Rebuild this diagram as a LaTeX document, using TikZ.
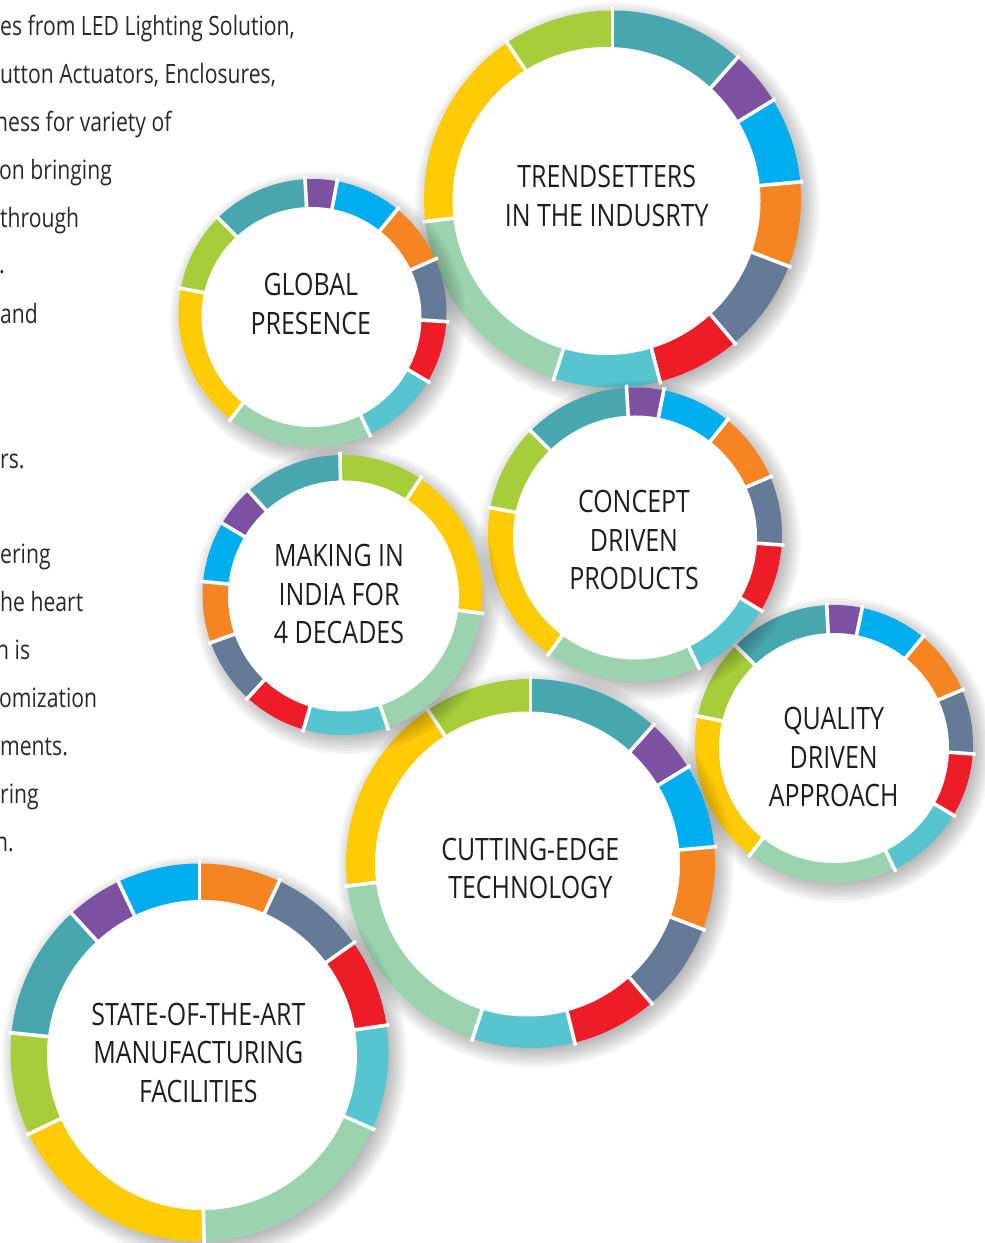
\documentclass[tikz,border=0pt]{standalone}
\usepackage{fontspec}
\setmainfont{Open Sans}[FakeStretch=0.81]
\newfontfamily\bodyfont{Open Sans}[FakeStretch=0.795]
\usetikzlibrary{calc}
\definecolor{cteal}{HTML}{48A6AE}
\definecolor{cpurple}{HTML}{7C51A1}
\definecolor{cblue}{HTML}{00AEEF}
\definecolor{corange}{HTML}{F58523}
\definecolor{cslate}{HTML}{647A96}
\definecolor{cred}{HTML}{ED1C27}
\definecolor{ccyan}{HTML}{57C5D0}
\definecolor{cmint}{HTML}{9BD3AF}
\definecolor{cyellow}{HTML}{FFCB05}
\definecolor{clime}{HTML}{A7CE3A}
\definecolor{ctext}{HTML}{1E1E1E}
\definecolor{cbody}{HTML}{2A2A2A}
\newcommand\ringshadow[2]{%
  \foreach \k in {0,...,11}{%
    \pgfmathsetmacro\rs{#2-8+2*\k}%
    \fill[black, opacity=0.028] ($(#1)+(5,-6)$) circle (\rs);
  }%
}
\newcommand\ringsegs[3]{%
  \foreach \a/\b/\c in {#3}{%
    \fill[\c] (#1) -- ++(\a:#2) arc[start angle=\a, end angle=\b, radius=#2] -- cycle;
  }%
  \foreach \a/\b/\c in {#3}{%
    \pgfmathsetmacro\rr{#2+3}%
    \draw[sepline] (#1) -- ++(\a:\rr);
  }%
}
\begin{document}
\begin{tikzpicture}[x=1pt,y=1pt,
  sepline/.style={white, line width=3.6pt},
  ringtext/.style={align=center, inner sep=0pt, text=ctext, font=\fontsize{30.8}{38.5}\selectfont},
  bodytext/.style={anchor=base west, inner sep=0pt, text=cbody, font=\bodyfont\fontsize{26.6}{48}\selectfont}]
\useasboundingbox (0,0) rectangle (985,1243);
\fill[white] (0,0) rectangle (985,1243);

% left paragraph fragments
\node[bodytext] (p1) at (0,1207) {es from LED Lighting Solution,};
\node[bodytext] (p2) at (0,1159) {utton Actuators, Enclosures,};
\node[bodytext] (p3) at (-5,1111) {ness for variety of};
\node[bodytext] (p4) at (-1,1063) {on bringing};
\node[bodytext] (p5) at (0,1015) {through};
\node[bodytext] (p6) at (-1,969) {.};
\node[bodytext] (p7) at (0,919) {and};
\node[bodytext] (p8) at (0,774) {rs.};
\node[bodytext] (p9) at (0,679) {ering};
\node[bodytext] (p10) at (0,631) {he heart};
\node[bodytext] (p11) at (-4,583) {n is};
\node[bodytext] (p12) at (-1,535) {omization};
\node[bodytext] (p13) at (0,487) {ments.};
\node[bodytext] (p14) at (0,439) {ring};
\node[bodytext] (p15) at (-5,391) {n.};

% ring centres
\coordinate (cT) at (612.5,1044);
\coordinate (cG) at (312.5,930);
\coordinate (cQ) at (834,499);
\coordinate (cC) at (635,708.5);
\coordinate (cX) at (530.5,379.5);
\coordinate (cM) at (342.5,648);
\coordinate (cS) at (199.5,190.5);

% Trendsetters
\ringshadow{cT}{188.5}
\ringsegs{cT}{188.5}{90/48.5/cteal, 48.5/31.6/cpurple, 31.6/5.2/cblue, 5.2/-20.9/corange, -20.9/-49.7/cslate, -49.7/-75.4/cred, -75.4/-108.1/ccyan, -108.1/-173.1/cmint, -173.1/-236/cyellow, -236/-270/clime}
\fill[white] (606.5,1042) circle (154);
\node[ringtext] (tT) at (606.7,1047) {TRENDSETTERS\\IN THE INDUSRTY};

% Global presence
\ringshadow{cG}{134}
\ringsegs{cG}{134}{93.2/79.4/cpurple, 79.4/50.7/cblue, 50.7/23.7/corange, 23.7/-3.7/cslate, -3.7/-30.7/cred, -30.7/-64.8/ccyan, -64.8/-127.6/cmint, -127.6/-190.6/cyellow, -190.6/-225.2/clime, -225.2/-266.8/cteal}
\fill[white] (311.5,926) circle (110);
\node[ringtext] (tG) at (310.8,939) {GLOBAL\\PRESENCE};

% Quality driven approach
\ringshadow{cQ}{139}
\ringsegs{cQ}{139}{93/78.3/cpurple, 78.3/50.3/cblue, 50.3/22.9/corange, 22.9/-4.1/cslate, -4.1/-30.8/cred, -30.8/-64.2/ccyan, -64.2/-127.1/cmint, -127.1/-191.6/cyellow, -191.6/-225/clime, -225/-267/cteal}
\fill[white] (834,495) circle (115);
\node[ringtext] (tQ) at (833.7,486) {QUALITY\\DRIVEN\\APPROACH};

% Concept driven products
\ringshadow{cC}{147}
\ringsegs{cC}{147}{93.3/78.7/cpurple, 78.7/51.1/cblue, 51.1/23.1/corange, 23.1/-4.1/cslate, -4.1/-31.1/cred, -31.1/-64.4/ccyan, -64.4/-125.8/cmint, -125.8/-190.5/cyellow, -190.5/-224.8/clime, -224.8/-266.7/cteal}
\fill[white] (635,705.5) circle (122);
\node[ringtext] (tC) at (634,703) {CONCEPT\\DRIVEN\\PRODUCTS};

% Cutting-edge technology
\ringshadow{cX}{184.5}
\ringsegs{cX}{184.5}{90/48.4/cteal, 48.4/31.5/cpurple, 31.5/5.2/cblue, 5.2/-20.9/corange, -20.9/-49.1/cslate, -49.1/-76.1/cred, -76.1/-108.3/ccyan, -108.3/-173/cmint, -173/-236.2/cyellow, -236.2/-270/clime}
\fill[white] (527.5,379) circle (152.5);
\node[ringtext] (tX) at (530.3,374.5) {CUTTING-EDGE\\TECHNOLOGY};

% Making in India
\ringshadow{cM}{140}
\ringsegs{cM}{140}{91/56.2/clime, 56.2/-7.5/cyellow, -7.5/-71.2/cmint, -71.2/-106.2/ccyan, -106.2/-132.6/cred, -132.6/-160.1/cslate, -160.1/-185.5/corange, -185.5/-210.8/cblue, -210.8/-227.9/cpurple, -227.9/-269/cteal}
\fill[white] (343.5,647) circle (115.5);
\node[ringtext] (tM) at (339,648.5) {MAKING IN\\INDIA FOR\\4 DECADES};

% State-of-the-art
\ringshadow{cS}{189}
\ringsegs{cS}{189}{90/65/corange, 65/35.4/cslate, 35.4/8.3/cred, 8.3/-23.8/ccyan, -23.8/-88.6/cmint, -88.6/-154.5/cyellow, -154.5/-186/clime, -186/-227.4/cteal, -227.4/-244.6/cpurple, -244.6/-270/cblue}
\fill[white] (202,188) circle (155);
\node[ringtext] (tS) at (198.3,190.5) {STATE-OF-THE-ART\\MANUFACTURING\\FACILITIES};
\end{tikzpicture}
\end{document}
